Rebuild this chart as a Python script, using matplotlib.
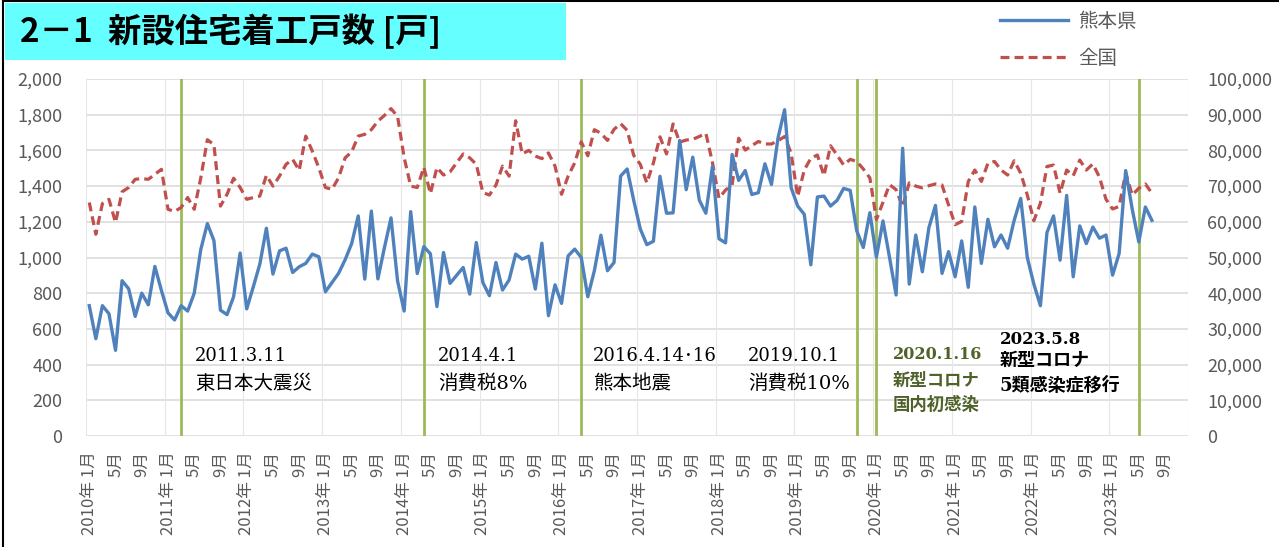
import numpy as np
import matplotlib
matplotlib.use('Agg')
import matplotlib.pyplot as plt
from matplotlib.patches import Rectangle
from matplotlib.lines import Line2D
from matplotlib.ticker import FuncFormatter

plt.rcParams['font.family'] = ['Noto Sans CJK JP', 'DejaVu Sans']

# 新設住宅着工戸数 月次 2010年1月〜2023年7月
kumamoto = [
    730, 545, 730, 685, 480, 870, 825, 670, 800, 735, 950, 815,
    690, 650, 730, 700, 800, 1045, 1190, 1095, 705, 680, 780, 1025,
    712, 835, 963, 1164, 907, 1037, 1052, 916, 948, 967, 1019, 1004,
    808, 860, 911, 987, 1078, 1233, 879, 1260, 880, 1056, 1222, 868,
    700, 1257, 910, 1061, 1021, 725, 1028, 855, 900, 944, 795, 1084,
    860, 786, 972, 818, 874, 1019, 991, 1007, 823, 1080, 674, 847,
    743, 1009, 1047, 1000, 780, 926, 1125, 926, 972, 1456, 1496, 1320,
    1160, 1072, 1091, 1455, 1248, 1250, 1656, 1380, 1562, 1321, 1248, 1510,
    1105, 1082, 1577, 1432, 1487, 1353, 1363, 1525, 1409, 1670, 1828, 1391,
    1288, 1242, 959, 1339, 1344, 1288, 1320, 1387, 1376, 1149, 1056, 1251,
    1002, 1205, 1000, 790, 1612, 851, 1126, 920, 1167, 1292, 911, 1033,
    892, 1093, 833, 1283, 967, 1214, 1060, 1126, 1052, 1208, 1331, 1000,
    851, 730, 1140, 1233, 985, 1348, 892, 1177, 1078, 1171, 1108, 1126,
    901, 1022, 1487, 1270, 1087, 1283, 1208,
]
zenkoku = [
    65400, 56500, 65100, 66300, 59800, 68400, 69600, 71900, 72100, 71900, 73300, 74700,
    63500, 62900, 64000, 66800, 63500, 72300, 83000, 81600, 64400, 67700, 72200, 69600,
    66300, 66800, 67200, 73000, 70000, 72800, 76100, 77500, 74400, 84000, 79800, 75100,
    69600, 69100, 72300, 77900, 79600, 84000, 84500, 85800, 88200, 89800, 91700, 89500,
    78000, 70000, 69600, 75300, 67900, 75200, 73100, 74000, 76500, 79000, 77900, 76100,
    68200, 67500, 70300, 75600, 72800, 88300, 79000, 80000, 78400, 77700, 79300, 75600,
    67700, 72800, 76500, 82400, 78500, 85800, 84800, 82800, 85900, 87500, 85600, 78600,
    76100, 70900, 76500, 83800, 79000, 87400, 82300, 82900, 83100, 83900, 84800, 76600,
    66600, 68900, 70300, 83400, 80100, 81300, 82500, 81800, 81800, 82700, 83900, 79200,
    67100, 74500, 77800, 78700, 72900, 81300, 78700, 75900, 77500, 76900, 74800, 72300,
    60600, 65500, 70400, 69000, 64200, 70900, 70000, 69500, 70100, 70600, 70300, 64700,
    59200, 60100, 71300, 74500, 71300, 76400, 76900, 74500, 73100, 77100, 73600, 67500,
    60300, 65200, 75500, 75900, 68000, 74500, 72900, 77300, 74500, 76200, 72500, 66300,
    63600, 64300, 73700, 67500, 69400, 70600, 68000,
]

start_year = 2010
n_months = 168  # 横軸は2010年1月〜2023年12月
label_months = [1, 5, 9]

# 出来事 (年, 月)
events = [(2011, 3), (2014, 4), (2016, 4), (2019, 10), (2020, 1), (2023, 5)]

BLUE = '#4F81BD'
RED = '#C0504D'
GREEN = '#9BBB59'
GRAY = '#595959'

W, H = 1279, 547
fig = plt.figure(figsize=(W / 100, H / 100), dpi=100)

# 外枠とタイトル
fig.add_artist(Line2D([3 / W, 3 / W], [0, 1 - 1 / H], color='black', lw=1.5))
fig.add_artist(Line2D([3 / W, 1], [1 - 1 / H, 1 - 1 / H], color='black', lw=1.5))
fig.add_artist(Rectangle((5 / W, 1 - 60 / H), 561 / W, 57 / H, color='#66FFFF', lw=0))
fig.text(20 / W, 1 - 31 / H, '2－1  新設住宅着工戸数 [戸]', fontsize=24, fontweight='bold',
         va='center', ha='left', color='black')

ax = fig.add_axes([86 / W, 1 - 436 / H, 1102 / W, 357 / H])
ax2 = ax.twinx()
ax.set_zorder(ax2.get_zorder() + 1)
ax.patch.set_visible(False)

idx = np.arange(n_months)
ax.set_xlim(-0.5, n_months - 0.5)
ax.set_ylim(0, 2000)
ax2.set_ylim(0, 100000)

# 目盛り線
for v in range(0, 100001, 10000):
    ax2.axhline(v, color='#D9D9D9', lw=1.1, zorder=0)
for b in idx[::12]:
    ax2.axvline(b - 0.5, color='#E6E6E6', lw=0.8, zorder=0)
ax2.axvline(n_months - 0.5, color='#E6E6E6', lw=0.8, zorder=0)

# 出来事の縦線
for (yy, mm) in events:
    ax2.axvline((yy - start_year) * 12 + mm - 1, color=GREEN, lw=2.0, zorder=1)

l_zen, = ax2.plot(np.arange(len(zenkoku)), zenkoku, color=RED, lw=2.3,
                  dashes=(2.8, 1.6), dash_capstyle='butt', zorder=2, label='全国')
l_kum, = ax.plot(np.arange(len(kumamoto)), kumamoto, color=BLUE, lw=2.4,
                 solid_joinstyle='round', zorder=3, label='熊本県')

for a in (ax, ax2):
    for s in a.spines.values():
        s.set_visible(False)

ax.set_yticks(range(0, 2001, 200))
ax2.set_yticks(range(0, 100001, 10000))
comma = FuncFormatter(lambda v, p: f'{int(v):,}')
ax.yaxis.set_major_formatter(comma)
ax2.yaxis.set_major_formatter(comma)
ax.tick_params(axis='y', length=0, pad=17, labelsize=13, labelcolor=GRAY)
ax2.tick_params(axis='y', length=0, pad=14, labelsize=13, labelcolor=GRAY)

ticks = [i for i in idx if (i % 12) + 1 in label_months]
labels = []
for i in ticks:
    y, m = start_year + i // 12, i % 12 + 1
    labels.append(f'{y}年 {m}月' if m == 1 else f'{m}月')
ax.set_xticks(ticks)
ax.set_xticklabels(labels, rotation=90, va='top', ha='center')
ax.tick_params(axis='x', length=0, pad=11, labelsize=12, labelcolor=GRAY)

# 注記
serif = ['DejaVu Serif', 'Noto Sans CJK JP']
notes = [
    (16.1, ['2011.3.11', '東日本大震災']),
    (53.2, ['2014.4.1', '消費税8%']),
    (76.8, ['2016.4.14･16', '熊本地震']),
    (100.4, ['2019.10.1', '消費税10%']),
]
for xpos, (d, t) in notes:
    ax.text(xpos, 448, d, family=serif, fontsize=13, va='center', ha='left', color='black')
    ax.text(xpos, 291, t, family=serif, fontsize=14, va='center', ha='left', color='black')

for ypos, t, fs in zip([454, 308, 174], ['2020.1.16', '新型コロナ', '国内初感染'], [11.5, 12.5, 12.5]):
    ax.text(122.5, ypos, t, family=serif, fontsize=fs, fontweight='bold',
            va='center', ha='left', color='#4F6228')
for ypos, t, fs in zip([543, 420, 280], ['2023.5.8', '新型コロナ', '5類感染症移行'], [12, 13, 13]):
    ax.text(138.8, ypos, t, family=serif, fontsize=fs, fontweight='bold',
            va='center', ha='left', color='black')

fig.legend(handles=[l_kum, l_zen], loc='upper left', bbox_to_anchor=(1000 / W, 1 - 11 / H),
           frameon=False, fontsize=14, handlelength=3.5, handletextpad=0.5,
           labelspacing=0.8, borderaxespad=0, borderpad=0, labelcolor=GRAY)

fig.savefig('out.png', dpi=100)
